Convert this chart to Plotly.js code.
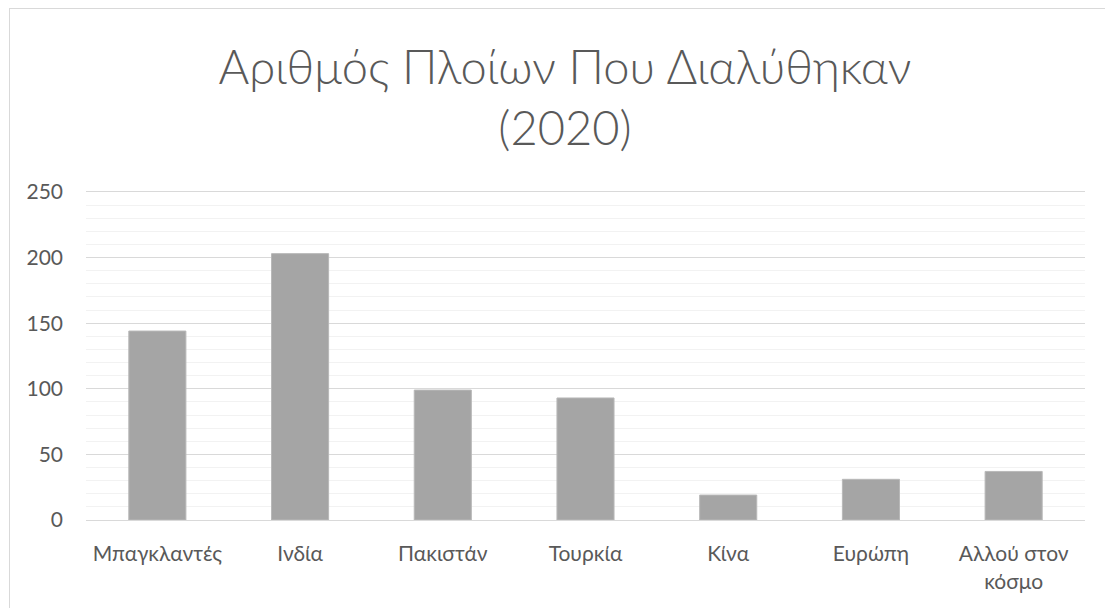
<!DOCTYPE html>
<html>
<head>
<meta charset="utf-8">
<script src="https://cdn.plot.ly/plotly-3.0.1.min.js"></script>
<style>
  html, body { margin: 0; padding: 0; overflow: hidden; background: #ffffff; }
  #chart { position: absolute; left: 9px; top: 8px; width: 1110px; height: 620px; border: 1px solid #d9d9d9; }
</style>
</head>
<body>
<div id="chart"></div>
<script>
const categories = ["Μπαγκλαντές", "Ινδία", "Πακιστάν", "Τουρκία", "Κίνα", "Ευρώπη", "Αλλού στον<br>κόσμο"];
const shipsScrapped = [144, 203, 99, 93, 19, 31, 37];
const yTicks = [0, 50, 100, 150, 200, 250];
const chartTitle = "Αριθμός Πλοίων Που Διαλύθηκαν<br>(2020)";

const font = "Lato, 'Open Sans', sans-serif";

Plotly.newPlot("chart", [{
  type: "bar",
  x: categories,
  y: shipsScrapped,
  marker: { color: "#A5A5A5", line: { color: "#B8B8B8", width: 1 } },
  hoverinfo: "x+y"
}], {
  width: 1110,
  height: 620,
  margin: { l: 76, r: 35, t: 181, b: 108.5, pad: 0 },
  paper_bgcolor: "#ffffff",
  plot_bgcolor: "#ffffff",
  bargap: 0.6,
  showlegend: false,
  title: {
    text: chartTitle,
    font: { family: font, size: 47, color: "#595959", weight: 300 },
    x: 0.5, xref: "container", xanchor: "center",
    y: 1 - 75 / 620, yref: "container", yanchor: "top"
  },
  xaxis: {
    type: "category",
    showgrid: false,
    showline: true,
    linecolor: "#D9D9D9",
    linewidth: 1,
    ticks: "",
    tickfont: { family: font, size: 21, color: "#595959" },
    ticklabelstandoff: 15
  },
  yaxis: {
    range: [0, 251.5],
    tickvals: yTicks,
    ticktext: yTicks.map(String),
    showgrid: true,
    gridcolor: "#D9D9D9",
    gridwidth: 1,
    zeroline: false,
    showline: false,
    ticks: "",
    tickfont: { family: font, size: 21, color: "#595959" },
    ticklabelstandoff: 22,
    minor: { dtick: 10, tick0: 0, showgrid: true, gridcolor: "#F2F2F2", gridwidth: 1, ticks: "" }
  }
}, { displayModeBar: false, staticPlot: false });
</script>
</body>
</html>
